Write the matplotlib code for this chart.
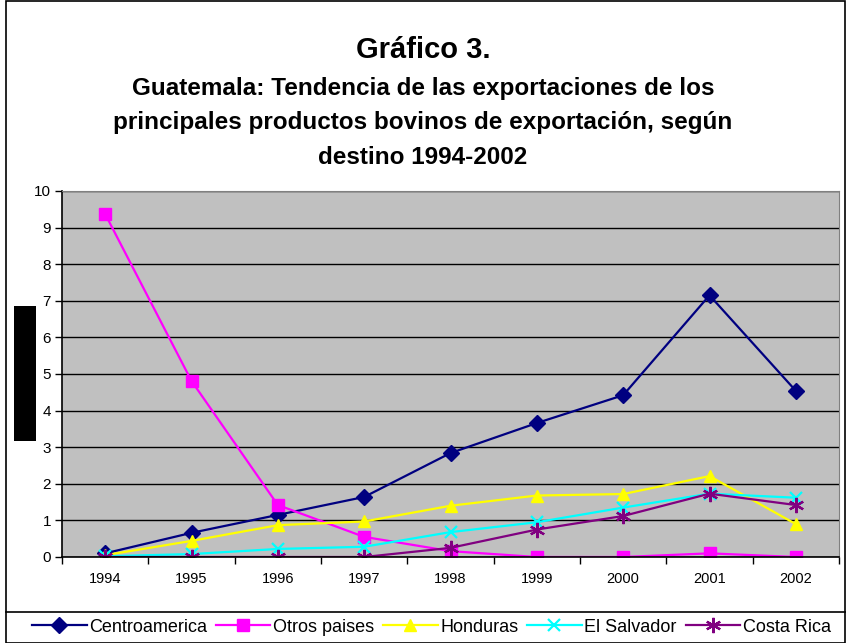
import matplotlib
matplotlib.use("Agg")
import matplotlib.pyplot as plt
from matplotlib.patches import Rectangle
from matplotlib.lines import Line2D

plt.rcParams['font.family'] = ['Liberation Sans', 'DejaVu Sans']

years = ['1994', '1995', '1996', '1997', '1998', '1999', '2000', '2001', '2002']
centroamerica = [0.10, 0.66, 1.15, 1.64, 2.84, 3.66, 4.42, 7.15, 4.54]
otros_paises = [9.37, 4.81, 1.42, 0.55, 0.16, 0.0, 0.0, 0.10, 0.0]
honduras = [0.05, 0.44, 0.87, 0.97, 1.40, 1.68, 1.72, 2.21, 0.90]
el_salvador = [0.02, 0.08, 0.22, 0.28, 0.68, 0.95, 1.35, 1.73, 1.62]
costa_rica = [0.0, 0.0, 0.0, 0.0, 0.25, 0.75, 1.12, 1.73, 1.42]

title = 'Gráfico 3.'
subtitle_lines = ['Guatemala: Tendencia de las exportaciones de los',
                  'principales productos bovinos de exportación, según',
                  'destino 1994-2002']

series = [
    ('Centroamerica', centroamerica, '#000080', 'D', 8),
    ('Otros paises', otros_paises, '#FF00FF', 's', 8),
    ('Honduras', honduras, '#FFFF00', '^', 9),
    ('El Salvador', el_salvador, '#00FFFF', 'x', 9),
    ('Costa Rica', costa_rica, '#800080', (6, 2, 0), 11),
]

W, H = 846, 643
fig = plt.figure(figsize=(W / 100, H / 100), dpi=100)

# outer border
fig.patches.append(Rectangle((6 / W, 0), (W - 7) / W, 1 - 1 / H, transform=fig.transFigure,
                             fill=False, edgecolor='black', linewidth=1.2))
# legend separator line
fig.add_artist(Line2D([6 / W, 1], [1 - 612 / H, 1 - 612 / H], transform=fig.transFigure,
                      color='black', linewidth=1.2))
# black box on the left
fig.patches.append(Rectangle((14 / W, 1 - 441 / H), 22 / W, 135 / H, transform=fig.transFigure,
                             facecolor='black', edgecolor='none'))

left, right, top, bottom = 62, 839, 191, 557
ax = fig.add_axes([left / W, 1 - bottom / H, (right - left) / W, (bottom - top) / H])
ax.set_facecolor('#C0C0C0')

x = list(range(len(years)))
for name, vals, col, mk, ms in series:
    ax.plot(x, vals, color=col, marker=mk, markersize=ms, linewidth=1.6,
            markeredgewidth=1.6 if mk in ('x', (6, 2, 0)) else 1, label=name)

ax.set_xlim(-0.5, len(years) - 0.5)
ax.set_ylim(0, 10)
ax.set_yticks(range(0, 11))
ax.set_xticks(x)
ax.set_xticklabels(years)
ax.set_xticks([i - 0.5 for i in range(len(years) + 1)], minor=True)
ax.tick_params(axis='x', which='major', length=0, pad=11, labelsize=10.5)
ax.tick_params(axis='x', which='minor', length=5, width=1)
ax.tick_params(axis='y', length=5, width=1, labelsize=11, pad=3)
ax.yaxis.grid(True, color='black', linewidth=1)
ax.set_axisbelow(True)
for s in ['top', 'right']:
    ax.spines[s].set_color('#808080')
for s in ['left', 'bottom']:
    ax.spines[s].set_color('black')
    ax.spines[s].set_linewidth(1.2)

fig.text(0.5, 1 - 50 / H, title, ha='center', va='center', fontsize=21, fontweight='bold')
for i, line in enumerate(subtitle_lines):
    fig.text(0.5, 1 - (89 + 34 * i) / H, line, ha='center', va='center',
             fontsize=17.5, fontweight='bold')

handles, labels = ax.get_legend_handles_labels()
fig.legend(handles, labels, loc='center', bbox_to_anchor=(0.51, 1 - 627 / H), ncol=5,
           frameon=False, fontsize=13, handlelength=3.0, handletextpad=0.15, columnspacing=0.5,
           borderaxespad=0, borderpad=0)

fig.savefig('out.png', dpi=100)
